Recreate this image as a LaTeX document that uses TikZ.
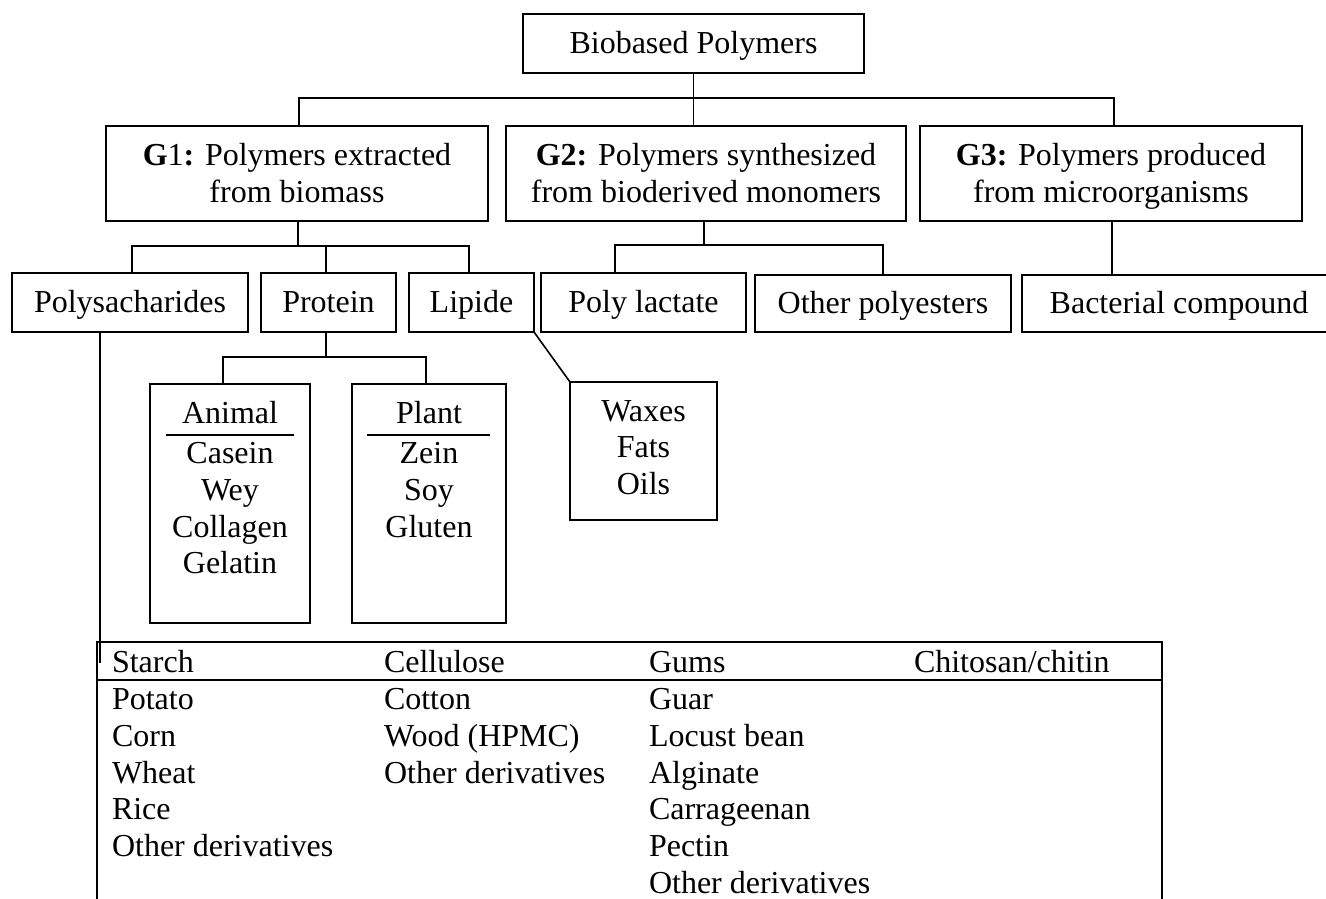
\documentclass[tikz,border=0pt]{standalone}
\usepackage{fontspec}
\setmainfont{Liberation Serif}
\newcommand\fs{\fontsize{32}{37}\selectfont}
\newcommand\mkbox[5]{\node[box, minimum width={#4-#2}, minimum height={#5-#3}] (#1) at ({(#2+#4)/2},{(#3+#5)/2}) {};}
\begin{document}
\begin{tikzpicture}[x=1pt,y=-1pt,
  box/.style={draw, line width=1.6pt, inner sep=0pt, outer sep=0pt},
  lbl/.style={anchor=base, inner sep=0pt, outer sep=0pt, font=\fs},
  lblw/.style={anchor=base west, inner sep=0pt, outer sep=0pt, font=\fs},
  conn/.style={line width=1.6pt}]
\clip (0,0) rectangle (1326,898);
\fill[white] (0,0) rectangle (1326,898);

% boxes
\mkbox{top}{523}{14}{864}{73}
\mkbox{g1}{106}{126}{488}{221}
\mkbox{g2}{506}{126}{906}{221}
\mkbox{g3}{920}{126}{1302}{221}
\mkbox{poly}{12}{273}{248}{332}
\mkbox{prot}{261}{273}{396}{332}
\mkbox{lip}{409}{273}{534}{332}
\mkbox{plac}{541}{273}{746}{332}
\mkbox{opol}{755}{275}{1011}{332}
\mkbox{bact}{1022}{275}{1345}{332}
\mkbox{ani}{150}{384}{310}{623}
\mkbox{plant}{352}{384}{506}{623}
\mkbox{wax}{570}{382}{717}{520}
\mkbox{tab}{97}{642}{1162}{940}

% texts
\node[lbl] (tTop) at (693.5,53) {Biobased Polymers};
\node[lbl] (g1a) at (297,165) {\textbf{G}1\textbf{:} Polymers extracted};
\node[lbl] (g1b) at (297,202) {from biomass};
\node[lbl] (g2a) at (706,165) {\textbf{G2:} Polymers synthesized};
\node[lbl] (g2b) at (706,202) {from bioderived monomers};
\node[lbl] (g3a) at (1111,165) {\textbf{G3:} Polymers produced};
\node[lbl] (g3b) at (1111,202) {from microorganisms};
\node[lbl] (tPoly) at (130,312) {Polysacharides};
\node[lbl] (tProt) at (328.5,312) {Protein};
\node[lbl] (tLip) at (471.5,312) {Lipide};
\node[lbl] (tPlac) at (643.5,312) {Poly lactate};
\node[lbl] (tOpol) at (883,313) {Other polyesters};
\node[lbl] (tBact) at (1179,313) {Bacterial compound};

\node[lbl] (tAni) at (230,423) {Animal};
\node[lbl] (a1) at (230,463) {Casein};
\node[lbl] (a2) at (230,500) {Wey};
\node[lbl] (a3) at (230,537) {Collagen};
\node[lbl] (a4) at (230,573) {Gelatin};
\node[lbl] (tPlant) at (429,423) {Plant};
\node[lbl] (p1) at (429,463) {Zein};
\node[lbl] (p2) at (429,500) {Soy};
\node[lbl] (p3) at (429,537) {Gluten};
\node[lbl] (w1) at (643.5,421) {Waxes};
\node[lbl] (w2) at (643.5,457) {Fats};
\node[lbl] (w3) at (643.5,494) {Oils};

\coordinate (ua1) at (166,435); \coordinate (ua2) at (294,435);
\coordinate (up1) at (367,435); \coordinate (up2) at (490,435);
\draw[conn] (ua1) -- (ua2);
\draw[conn] (up1) -- (up2);

% table text
\node[lblw] (h1) at (112,672) {Starch};
\node[lblw] (h2) at (384,672) {Cellulose};
\node[lblw] (h3) at (649,672) {Gums};
\node[lblw] (h4) at (914,672) {Chitosan/chitin};
\node[lblw] (s1) at (112,709) {Potato};
\node[lblw] (s2) at (112,746) {Corn};
\node[lblw] (s3) at (112,783) {Wheat};
\node[lblw] (s4) at (112,819) {Rice};
\node[lblw] (s5) at (112,856) {Other derivatives};
\node[lblw] (c1) at (384,709) {Cotton};
\node[lblw] (c2) at (384,746) {Wood (HPMC)};
\node[lblw] (c3) at (384,783) {Other derivatives};
\node[lblw] (m1) at (649,709) {Guar};
\node[lblw] (m2) at (649,746) {Locust bean};
\node[lblw] (m3) at (649,783) {Alginate};
\node[lblw] (m4) at (649,819) {Carrageenan};
\node[lblw] (m5) at (649,856) {Pectin};
\node[lblw] (m6) at (649,893) {Other derivatives};

% connectors
\coordinate (busA) at (0,98);
\coordinate (busB) at (0,246);
\coordinate (busC) at (0,245);
\coordinate (busD) at (0,357);
\coordinate (busE) at (0,680);
\coordinate (pend) at (100,663);

\draw[conn] (top.south) -- (top.south |- g2.north);
\draw[conn] ([xshift=2pt]g1.north) -- ([xshift=2pt]g1.north |- busA) -| ([xshift=3pt]g3.north);

\draw[conn] ([xshift=1pt]g1.south) -- ([xshift=1pt]g1.south |- busB);
\draw[conn] ([xshift=2pt]poly.north) |- ([xshift=-2.5pt]lip.north |- busB) -- ([xshift=-2.5pt]lip.north);
\draw[conn] ([xshift=-2.5pt]prot.north) -- ([xshift=-2.5pt]prot.north |- busB);

\draw[conn] ([xshift=-2pt]g2.south) -- ([xshift=-2pt]g2.south |- busC);
\draw[conn] ([xshift=-28.5pt]plac.north) |- (opol.north |- busC) -- (opol.north);

\draw[conn] ([xshift=1pt]g3.south) -- ([xshift=1pt]g3.south |- bact.north);

\draw[conn] ([xshift=-2.5pt]prot.south) -- ([xshift=-2.5pt]prot.south |- busD);
\draw[conn] ([xshift=-7pt]ani.north) |- ([xshift=-3pt]plant.north |- busD) -- ([xshift=-3pt]plant.north);

\draw[conn] (lip.south east) -- (wax.north west);

\draw[conn] ([xshift=-30pt]poly.south) -- (pend);

\draw[conn] (tab.north west |- busE) -- (tab.north east |- busE);
\end{tikzpicture}
\end{document}
